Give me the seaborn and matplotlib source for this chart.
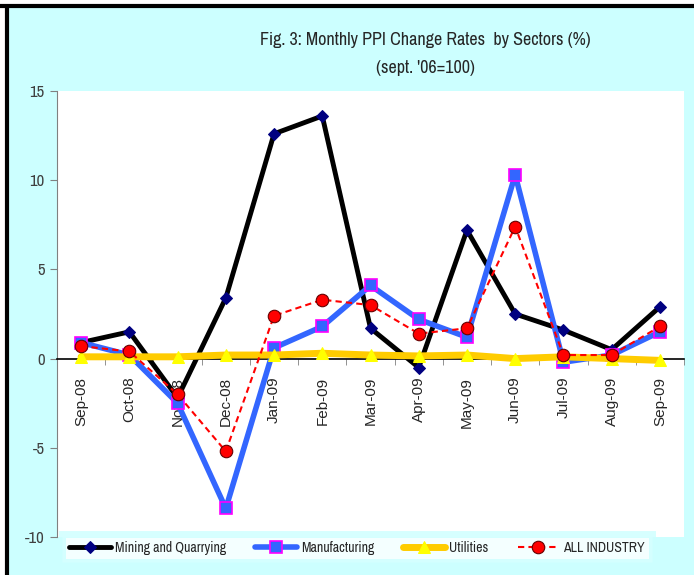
import numpy as np
import pandas as pd
import matplotlib
matplotlib.use('Agg')
import matplotlib.pyplot as plt
from matplotlib.patches import Rectangle
from matplotlib.lines import Line2D
from matplotlib import font_manager
import seaborn as sns

# chart data
months = ['Sep-08', 'Oct-08', 'Nov-08', 'Dec-08', 'Jan-09', 'Feb-09', 'Mar-09',
          'Apr-09', 'May-09', 'Jun-09', 'Jul-09', 'Aug-09', 'Sep-09']
mining = [0.9, 1.5, -2.2, 3.4, 12.6, 13.6, 1.7, -0.5, 7.2, 2.5, 1.6, 0.5, 2.9]
manufacturing = [0.9, 0.2, -2.5, -8.4, 0.6, 1.8, 4.1, 2.2, 1.2, 10.3, -0.2, 0.2, 1.5]
utilities = [0.1, 0.1, 0.1, 0.2, 0.2, 0.3, 0.2, 0.15, 0.2, 0.0, 0.1, 0.0, -0.1]
all_industry = [0.7, 0.4, -2.0, -5.2, 2.4, 3.3, 3.0, 1.4, 1.7, 7.4, 0.2, 0.2, 1.8]
y_ticks = [-10, -5, 0, 5, 10, 15]

sns.set_style('white')

# look for a condensed face, otherwise plain Liberation Sans
installed = {f.name for f in font_manager.fontManager.ttflist}
narrow_name = None
for n in sorted(installed):
    if 'Narrow' in n or 'Condensed' in n:
        narrow_name = n
        break
base = ['Liberation Sans', 'DejaVu Sans']
narrow = [narrow_name, 'DejaVu Sans'] if narrow_name else base
plt.rcParams['font.family'] = base

fig = plt.figure(figsize=(6.94, 5.75), dpi=100)
fig.patch.set_facecolor('white')
# cyan background and black frame edges
fig.add_artist(Rectangle((8 / 694, 0), 1, 1 - 8 / 575, transform=fig.transFigure,
                         facecolor='#CCFFFF', edgecolor='none', zorder=-10))
fig.add_artist(Line2D([0, 1], [1 - 6 / 575, 1 - 6 / 575], transform=fig.transFigure,
                      color='black', lw=3))
fig.add_artist(Line2D([7 / 694, 7 / 694], [0, 1 - 6 / 575], transform=fig.transFigure,
                      color='black', lw=3))

ax = fig.add_axes([57 / 694, 1 - 537 / 575, 627 / 694, 446 / 575])
ax.set_facecolor('white')

x = np.arange(len(months))
sns.lineplot(x=x, y=mining, ax=ax, color='black', lw=3.5, marker='D', markersize=6,
             markerfacecolor='#000080', markeredgecolor='#000080', label='Mining and Quarrying', zorder=3)
sns.lineplot(x=x, y=manufacturing, ax=ax, color='#3366FF', lw=4, marker='s', markersize=8,
             markerfacecolor='#3366FF', markeredgecolor='#FF00FF', markeredgewidth=1.2,
             label='Manufacturing', zorder=4)
sns.lineplot(x=x, y=utilities, ax=ax, color='#FFCC00', lw=5, marker='^', markersize=8,
             markerfacecolor='#FFFF00', markeredgecolor='#FFFF00', label='Utilities', zorder=5)
sns.lineplot(x=x, y=all_industry, ax=ax, color='#FF0000', lw=1.5, linestyle=(0, (3, 2)),
             marker='o', markersize=9, markerfacecolor='#FF0000', markeredgecolor='#660000',
             markeredgewidth=0.8, label='ALL INDUSTRY', zorder=6)

ax.set_xlim(-0.5, len(months) - 0.5)
ax.set_ylim(-10, 15)
ax.set_yticks(y_ticks)
ax.set_yticklabels([str(t) for t in y_ticks], fontsize=12, color='#404040', family=narrow)
ax.tick_params(axis='y', direction='out', length=5, color='#808080', left=True, pad=4)

# x axis sits on the zero line
for s in ['top', 'right']:
    ax.spines[s].set_visible(False)
ax.spines['left'].set_color('#808080')
ax.spines['bottom'].set_position(('data', 0))
ax.spines['bottom'].set_color('black')
ax.spines['bottom'].set_linewidth(1.2)
ax.set_xticks(x)
ax.set_xticklabels(months, rotation=90, fontsize=11, va='top', ha='center')
ax.set_xticks(np.arange(-0.5, len(months)), minor=True)
ax.tick_params(axis='x', which='major', length=0, pad=13)
ax.tick_params(axis='x', which='minor', direction='out', length=4, color='#808080', bottom=True)
ax.set_xlabel('')
ax.set_ylabel('')

title_size = 13 if narrow_name else 11
fig.text(425 / 694, 1 - 40 / 575, 'Fig. 3: Monthly PPI Change Rates  by Sectors (%)',
         ha='center', va='center', fontsize=title_size, family=narrow)
fig.text(425 / 694, 1 - 68 / 575, "(sept. '06=100)", ha='center', va='center',
         fontsize=title_size, family=narrow)

ax.get_legend().remove()
handles, labels = ax.get_legend_handles_labels()
leg = fig.legend(handles, labels, loc='center', bbox_to_anchor=(357 / 694, 1 - 548 / 575),
                 ncol=4, frameon=True, fancybox=False, handlelength=3.0, columnspacing=2.1,
                 handletextpad=0.3, borderpad=0.5,
                 prop={'family': narrow, 'size': 10 if narrow_name else 9})
leg.get_frame().set_facecolor('white')
leg.get_frame().set_edgecolor('#CCFFFF')
leg.get_frame().set_linewidth(5)

fig.savefig('out.png', dpi=100)
